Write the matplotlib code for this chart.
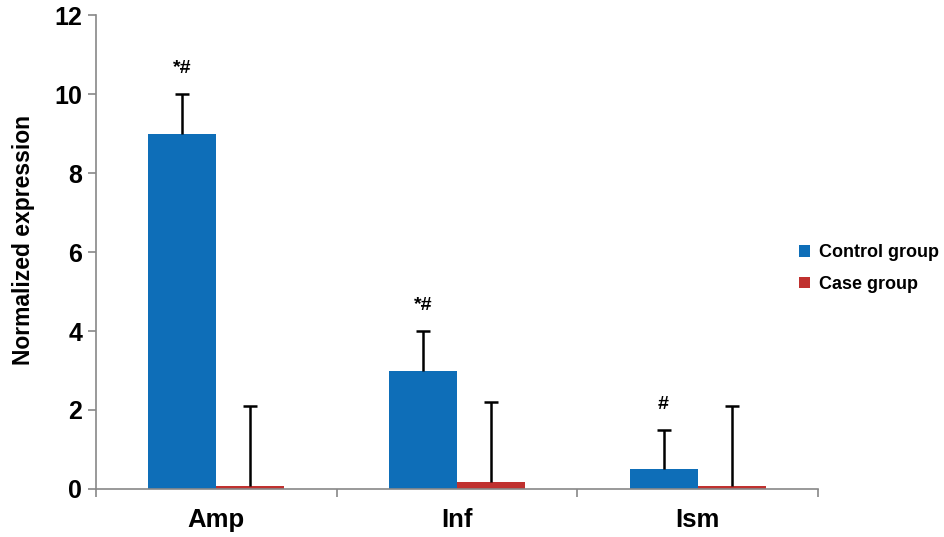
import matplotlib
matplotlib.use("Agg")
import matplotlib.pyplot as plt
import numpy as np

categories = ["Amp", "Inf", "Ism"]
control = [9.0, 3.0, 0.5]
control_err = [1.0, 1.0, 1.0]
case = [0.08, 0.18, 0.08]
case_err = [2.02, 2.02, 2.02]
annotations = ["*#", "*#", "#"]
series_names = ["Control group", "Case group"]

plt.rcParams['font.family'] = ['Liberation Sans', 'DejaVu Sans']
plt.rcParams['font.weight'] = 'bold'

fig = plt.figure(figsize=(9.45, 5.37), dpi=100)
ax = fig.add_axes([0.1016, 0.0894, 0.7640, 0.8826])

x = np.arange(len(categories))
w = 0.283
blue = "#0E6EB8"
red = "#C0312F"
ax.bar(x - w/2, control, w, color=blue, label=series_names[0], zorder=2)
ax.bar(x + w/2, case, w, color=red, label=series_names[1], zorder=2)

for xs, vals, errs in [(x - w/2, control, control_err), (x + w/2, case, case_err)]:
    vals = np.array(vals); errs = np.array(errs)
    ax.vlines(xs, vals, vals + errs, color="black", linewidth=1.8, zorder=3)
    ax.plot(xs, vals + errs, linestyle="none", marker="_", markersize=10,
            markeredgewidth=1.8, color="black", zorder=3)

for i, t in enumerate(annotations):
    ax.text(x[i] - w/2, control[i] + control_err[i] + 0.42, t, ha="center", va="bottom",
            fontsize=14, fontweight="bold")

ax.set_xlim(-0.5, 2.5)
ax.set_ylim(0, 12)
ax.set_yticks([0, 2, 4, 6, 8, 10, 12])
ax.set_xticks(x)
ax.set_xticklabels(categories, fontsize=18.5, fontweight="bold")
ax.set_xticks([-0.5, 0.5, 1.5, 2.5], minor=True)
ax.tick_params(axis='x', which='major', length=0, pad=14)
ax.tick_params(axis='x', which='minor', length=6, color="#888888", width=1.2, direction='out')
ax.tick_params(axis='y', labelsize=18, length=6, color="#888888", width=1.2, direction='out', pad=4)
for lab in ax.get_yticklabels():
    lab.set_fontweight("bold")
ax.set_ylabel("Normalized expression", fontsize=16.5, fontweight="bold")
ax.yaxis.set_label_coords(-0.084, 0.525)

for s in ["top", "right"]:
    ax.spines[s].set_visible(False)
for s in ["left", "bottom"]:
    ax.spines[s].set_color("#888888")
    ax.spines[s].set_linewidth(1.2)

leg = fig.legend(loc="upper left", bbox_to_anchor=(0.828, 0.575), frameon=False,
                 handlelength=0.6, handleheight=0.6, handletextpad=0.5,
                 labelspacing=0.8, prop={'weight': 'bold', 'size': 13})

fig.savefig("out.png", dpi=100)
